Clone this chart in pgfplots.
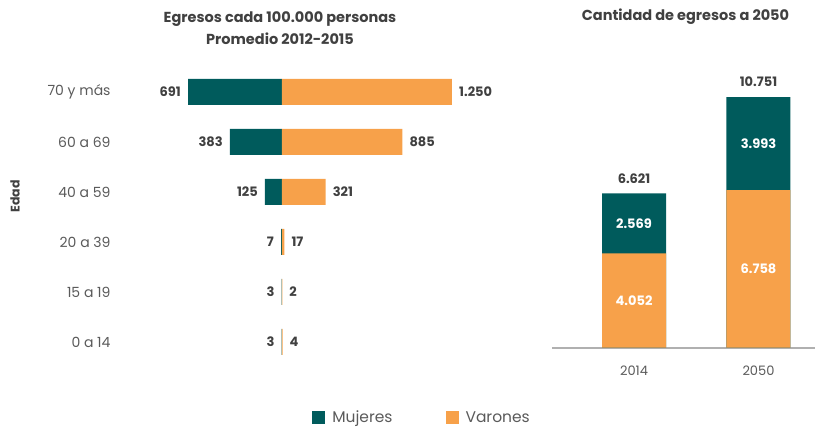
\documentclass[border=0pt]{standalone}
\usepackage{fontspec}
\setmainfont{Poppins}
\usepackage{pgfplots}
\pgfplotsset{compat=1.18}
\usepackage{pgfplotstable}
\definecolor{teal1}{HTML}{005B5C}
\definecolor{orange1}{HTML}{F7A14A}
\definecolor{txt}{HTML}{5A5A5A}
\definecolor{dtxt}{HTML}{404040}
\definecolor{gline}{HTML}{B0B0B0}

\pgfplotstableread{
y m v
0 3 4
1 3 2
2 7 17
3 125 321
4 383 885
5 691 1250
}\edad

\pgfplotstableread{
x v m t
0 4052 2569 6621
1 6758 3993 10751
}\proy

\begin{document}
\begin{tikzpicture}
\useasboundingbox (0pt,0pt) rectangle (815pt,428pt);
\coordinate (L) at (159.6pt,61pt);
\coordinate (R) at (552pt,80.3pt);
\node[font=\bfseries\fontsize{14.5}{22}\selectfont, text=dtxt, align=center] at (280pt,400pt) {Egresos cada 100.000 personas\\Promedio 2012-2015};
\node[font=\bfseries\fontsize{14.5}{15}\selectfont, text=dtxt] at (685.5pt,411pt) {Cantidad de egresos a 2050};
\node[rotate=90, font=\bfseries\fontsize{12.5}{14}\selectfont, text=dtxt] at (15pt,231.5pt) {Edad};

\begin{axis}[
 at={(L)}, anchor=south west,
 scale only axis, width=340pt, height=300pt,
 xmin=-900, xmax=1600, ymin=-0.5, ymax=5.5,
 axis line style={draw=none}, tick style={draw=none},
 xtick=\empty, ytick={0,1,2,3,4,5},
 yticklabels={0 a 14,15 a 19,20 a 39,40 a 59,60 a 69,70 y más},
 yticklabel style={font=\fontsize{14}{15}\selectfont, text=txt, inner sep=0pt, xshift=-44.6pt, anchor=east},
 xbar, bar width=26pt, bar shift=0pt,
 /pgf/number format/1000 sep={.},
 /pgf/number format/assume math mode=true,
]
\addplot[fill=teal1, draw=none, nodes near coords, point meta=\thisrow{m},
  every node near coord/.append style={anchor=east, xshift=-7pt, inner sep=0pt, font=\bfseries\fontsize{13}{14}\selectfont, text=dtxt}]
  table[x expr=-\thisrow{m}, y=y]{\edad};
\addplot[fill=orange1, draw=none, nodes near coords, point meta=\thisrow{v},
  every node near coord/.append style={anchor=west, xshift=7pt, inner sep=0pt, font=\bfseries\fontsize{13}{14}\selectfont, text=dtxt}]
  table[x=v, y=y]{\edad};
\end{axis}

\begin{axis}[
 at={(R)}, anchor=south west,
 scale only axis, width=263pt, height=279.6pt,
 xmin=-0.659, xmax=1.454, ymin=0, ymax=12000,
 axis x line=bottom, axis y line=none,
 x axis line style={draw=gline, line width=2pt, -},
 tick style={draw=none},
 xtick={0,1}, xticklabels={2014,2050}, ytick=\empty,
 xticklabel style={font=\fontsize{13}{14}\selectfont, text=txt, inner sep=0pt, yshift=-15.5pt},
 /pgf/number format/1000 sep={.},
 /pgf/number format/assume math mode=true,
 legend style={at={(-0.494,-0.250)}, anchor=center, legend columns=2, draw=none, fill=none,
   font=\fontsize{15.5}{16}\selectfont, text=txt,
   /tikz/every odd column/.append style={column sep=5pt},
   /tikz/every even column/.append style={column sep=51pt}},
]
\addplot[ybar, bar width=64pt, bar shift=0pt, fill=teal1, draw=none,
  nodes near coords, point meta=\thisrow{t},
  every node near coord/.append style={anchor=south, yshift=10pt, inner sep=0pt, font=\bfseries\fontsize{13}{14}\selectfont, text=dtxt},
  legend image code/.code={\fill[teal1] (0pt,-6.5pt) rectangle (13pt,6.5pt);}]
  table[x=x, y=t]{\proy};
\addlegendentry{Mujeres}
\addplot[ybar, bar width=64pt, bar shift=0pt, fill=orange1, draw=none,
  legend image code/.code={\fill[orange1] (0pt,-6.5pt) rectangle (13pt,6.5pt);}]
  table[x=x, y=v]{\proy};
\addlegendentry{Varones}
\addplot[draw=none, mark=none, forget plot, nodes near coords, point meta=\thisrow{v},
  every node near coord/.append style={anchor=center, inner sep=0pt, font=\bfseries\fontsize{13}{14}\selectfont, text=white}]
  table[x=x, y expr=\thisrow{v}/2]{\proy};
\addplot[draw=none, mark=none, forget plot, nodes near coords, point meta=\thisrow{m},
  every node near coord/.append style={anchor=center, inner sep=0pt, font=\bfseries\fontsize{13}{14}\selectfont, text=white}]
  table[x=x, y expr=\thisrow{v}+\thisrow{m}/2]{\proy};
\end{axis}
\end{tikzpicture}
\end{document}
